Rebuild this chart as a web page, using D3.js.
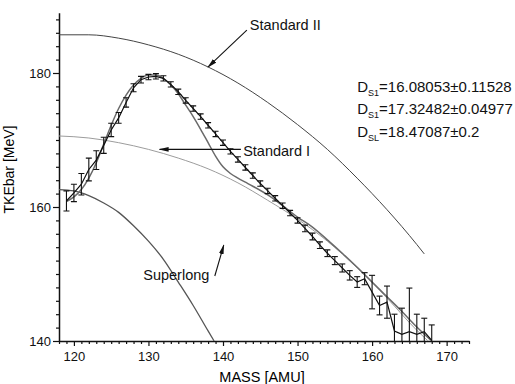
<!DOCTYPE html>
<html lang="en">
<head>
  <meta charset="UTF-8">
  <title>TKE vs mass</title>
</head>
<style>
  body {
    margin: 0;
    background: #fff;
  }
  svg {
    display: block;
    font-family: "Liberation Sans", Arial, Helvetica, sans-serif;
  }
  .axis path, .axis line {
    stroke: #111;
  }
  .axis text {
    fill: #111;
    font-size: 13px;
  }
</style>
<body>
<svg width="515" height="384"></svg>
<script src="https://cdn.jsdelivr.net/npm/d3@7/dist/d3.min.js"></script>
<script>
  // measured points (mass, mean TKE, error)
  const mass = [119, 120, 121, 122, 123, 124, 125, 126, 127, 128, 129, 130, 131, 132, 133, 134, 135, 136, 137, 138,
    139, 140, 141, 142, 143, 144, 145, 146, 147, 148, 149, 150, 151, 152, 153, 154, 155, 156, 157, 158,
    159, 160, 161, 162, 163, 164, 165, 166, 167, 168];
  const tke = [160.9, 162.1, 163.4, 165.6, 167.0, 169.2, 171.5, 173.3, 175.6, 177.8, 179.0, 179.4, 179.5, 179.2, 178.3, 177.2, 175.9, 174.7, 173.5, 172.2,
    170.9, 169.6, 168.3, 167.1, 165.9, 164.7, 163.5, 162.4, 161.3, 160.2, 159.1, 158.0, 156.8, 155.6, 154.3, 153.1, 152.0, 150.9, 149.8, 148.8,
    149.3, 147.3, 145.3, 145.8, 141.5, 141.0, 141.4, 141.0, 141.4, 140.1];
  const tkeErr = [1.5, 1.3, 1.6, 1.7, 1.4, 1.2, 1.0, 0.8, 0.7, 0.6, 0.5, 0.4, 0.4, 0.4, 0.4, 0.4, 0.4, 0.4, 0.4, 0.4,
    0.4, 0.4, 0.4, 0.4, 0.4, 0.4, 0.4, 0.4, 0.4, 0.4, 0.4, 0.4, 0.5, 0.5, 0.5, 0.5, 0.6, 0.6, 0.7, 0.8,
    0.9, 2.5, 1.4, 2.4, 2.5, 3.9, 6.5, 3.0, 2.0, 2.3];

  // fitted sum of modes
  const fitMass = [119, 120, 121, 122, 123, 124, 125, 126, 127, 128, 129, 130, 131, 132, 133, 134, 135, 136, 137, 138,
    139, 140, 141, 142, 143, 144, 146, 148, 150, 152, 154, 156, 158, 160, 162, 164, 166, 168];
  const fitTke = [160.8, 161.5, 162.6, 164.3, 166.6, 169.4, 172.2, 174.7, 176.7, 178.2, 179.2, 179.7, 179.7, 179.2, 178.2, 176.9, 175.2, 173.5, 171.6, 169.6,
    167.6, 166.0, 165.0, 164.3, 163.7, 163.1, 161.8, 160.2, 158.5, 157.0, 155.1, 153.1, 151.0, 148.8, 146.6, 144.4, 142.1, 140.0];

  // single modes
  const stdIMass = [118, 122, 126, 130, 134, 138, 142, 146, 150, 154, 158, 162, 166, 168];
  const stdITke = [170.6, 170.3, 169.6, 168.6, 167.3, 165.7, 163.6, 161.0, 158.2, 154.9, 150.9, 146.4, 141.6, 139.5];
  const stdIIMass = [118, 122, 126, 130, 134, 138, 142, 146, 150, 154, 158, 162, 166, 167];
  const stdIITke = [185.7, 185.7, 185.2, 184.2, 182.8, 180.9, 178.5, 175.6, 172.3, 168.6, 164.3, 159.6, 154.4, 153.0];
  const superMass = [118, 120, 122, 124, 126, 128, 130, 132, 134, 136, 138, 138.8];
  const superTke = [162.6, 162.4, 161.7, 160.6, 159.2, 157.2, 154.9, 152.2, 148.8, 145.3, 141.5, 140.0];

  const massTicks = [120, 130, 140, 150, 160, 170];
  const tkeTicks = [140, 160, 180];
  const notes = [
    {sub: 'S1', text: '=16.08053\u00b10.11528'},
    {sub: 'S1', text: '=17.32482\u00b10.04977'},
    {sub: 'SL', text: '=18.47087\u00b10.2'}
  ];

  const svg = d3.select('svg');
  const x = d3.scaleLinear().domain([118, 173]).range([59, 469]);
  const y = d3.scaleLinear().domain([140, 189]).range([341, 12.7]);

  svg.append('defs').append('clipPath').attr('id', 'plot')
    .append('rect')
    .attr('x', x(118)).attr('y', y(189))
    .attr('width', x(173) - x(118)).attr('height', y(140) - y(189));

  const marker = svg.select('defs').append('marker')
    .attr('id', 'arrow')
    .attr('viewBox', '0 0 10 6')
    .attr('refX', 9).attr('refY', 3)
    .attr('markerWidth', 10).attr('markerHeight', 6)
    .attr('markerUnits', 'userSpaceOnUse')
    .attr('orient', 'auto');
  marker.append('path').attr('d', 'M0,0.6L10,3L0,5.4Z').attr('fill', '#111');

  // axes
  const minorX = d3.range(118, 174).filter(v => v % 10 !== 0);
  const minorY = d3.range(142, 189, 2).filter(v => v % 20 !== 0);

  svg.append('g').attr('class', 'axis')
    .attr('transform', `translate(0,${y(140)})`)
    .call(d3.axisBottom(x).tickValues(minorX).tickSize(3).tickSizeOuter(0).tickFormat(''))
    .call(g => g.select('.domain').remove());
  svg.append('g').attr('class', 'axis')
    .attr('transform', `translate(0,${y(140)})`)
    .call(d3.axisBottom(x).tickValues(massTicks).tickSize(5).tickPadding(6).tickSizeOuter(0))
    .call(g => g.select('.domain').attr('stroke-width', 1.5));

  svg.append('g').attr('class', 'axis')
    .attr('transform', `translate(${x(118)},0)`)
    .call(d3.axisLeft(y).tickValues(minorY).tickSize(3).tickSizeOuter(0).tickFormat(''))
    .call(g => g.select('.domain').remove());
  svg.append('g').attr('class', 'axis')
    .attr('transform', `translate(${x(118)},0)`)
    .call(d3.axisLeft(y).tickValues(tkeTicks).tickSize(6).tickPadding(2).tickSizeOuter(0))
    .call(g => g.select('.domain').attr('stroke-width', 1.5));

  svg.selectAll('.axis .tick line').attr('stroke-width', 1.2);

  svg.append('text')
    .attr('transform', `translate(14,${y(165.6)}) rotate(-90)`)
    .attr('text-anchor', 'middle')
    .style('font-size', '14px')
    .text('TKEbar [MeV]');

  svg.append('text')
    .attr('x', 262).attr('y', 382)
    .attr('text-anchor', 'middle')
    .style('font-size', '14.5px')
    .text('MASS [AMU]');

  // curves
  const plot = svg.append('g').attr('clip-path', 'url(#plot)');
  const line = d3.line().x(d => x(d[0])).y(d => y(d[1])).curve(d3.curveMonotoneX);

  plot.append('path').datum(d3.zip(stdIIMass, stdIITke))
    .attr('d', line).attr('fill', 'none').attr('stroke', '#444').attr('stroke-width', 1);
  plot.append('path').datum(d3.zip(stdIMass, stdITke))
    .attr('d', line).attr('fill', 'none').attr('stroke', '#9c9c9c').attr('stroke-width', 1);
  plot.append('path').datum(d3.zip(superMass, superTke))
    .attr('d', line).attr('fill', 'none').attr('stroke', '#555').attr('stroke-width', 1.3);
  plot.append('path').datum(d3.zip(fitMass, fitTke))
    .attr('d', line).attr('fill', 'none').attr('stroke', '#6a6a6a').attr('stroke-width', 1.5);

  const pts = mass.map((m, i) => ({m: m, t: tke[i], e: tkeErr[i]}));
  plot.append('path').datum(pts)
    .attr('d', d3.line().x(d => x(d.m)).y(d => y(d.t)))
    .attr('fill', 'none').attr('stroke', '#111').attr('stroke-width', 1.2);

  const bars = plot.append('g').attr('stroke', '#111').attr('stroke-width', 1.1)
    .selectAll('g').data(pts).enter().append('g');
  bars.append('line')
    .attr('x1', d => x(d.m)).attr('x2', d => x(d.m))
    .attr('y1', d => y(d.t - d.e)).attr('y2', d => y(d.t + d.e));
  bars.append('line')
    .attr('x1', d => x(d.m) - 3).attr('x2', d => x(d.m) + 3)
    .attr('y1', d => y(d.t + d.e)).attr('y2', d => y(d.t + d.e));
  bars.append('line')
    .attr('x1', d => x(d.m) - 3).attr('x2', d => x(d.m) + 3)
    .attr('y1', d => y(d.t - d.e)).attr('y2', d => y(d.t - d.e));

  // labels and arrows
  const label = (m, t, s) => svg.append('text')
    .attr('x', x(m)).attr('y', y(t))
    .style('font-size', '14.5px').attr('fill', '#111').text(s);
  const arrow = (m1, t1, m2, t2) => svg.append('line')
    .attr('x1', x(m1)).attr('y1', y(t1)).attr('x2', x(m2)).attr('y2', y(t2))
    .attr('stroke', '#111').attr('stroke-width', 1.1).attr('marker-end', 'url(#arrow)');

  label(143.6, 186.4, 'Standard II');
  arrow(143.2, 186.4, 138.0, 180.9);
  label(142.7, 167.6, 'Standard I');
  arrow(142.4, 168.6, 131.5, 168.6);
  label(129.3, 149.1, 'Superlong');
  arrow(138.9, 149.7, 140.1, 154.3);

  const noteG = svg.append('g').attr('fill', '#111');
  notes.forEach((n, i) => {
    const t = noteG.append('text')
      .attr('x', x(158.0)).attr('y', y(177.2) + i * 22.5)
      .style('font-size', '15px');
    t.append('tspan').text('D');
    t.append('tspan').attr('dy', 4).style('font-size', '9px').text(n.sub);
    t.append('tspan').attr('dy', -4).text(n.text);
  });
</script>
</body>
</html>
